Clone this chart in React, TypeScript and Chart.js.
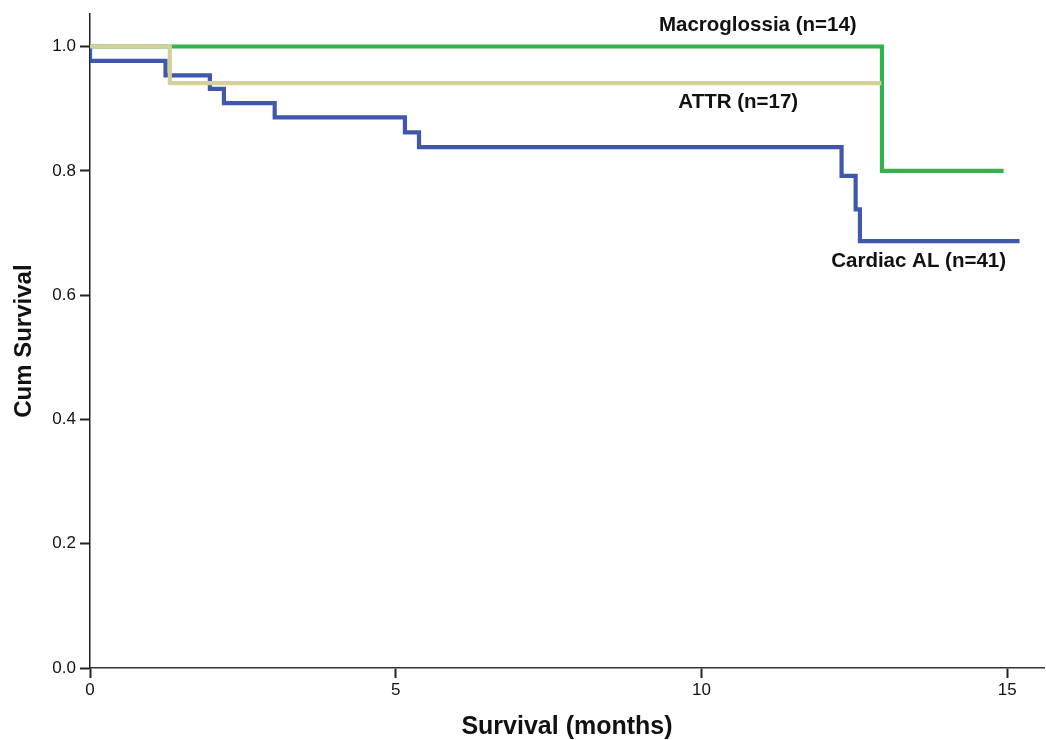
import { useEffect, useRef } from "react";
import { Chart, registerables } from "chart.js";

Chart.register(...registerables);

// Kaplan–Meier estimates (time in months, cumulative survival)
const cardiacTimes = [0, 0, 1.235, 1.96, 2.19, 3.02, 5.15, 5.38, 12.29, 12.52, 12.59, 15.2];
const cardiacSurvival = [1, 0.977, 0.9535, 0.932, 0.909, 0.886, 0.862, 0.838, 0.792, 0.738, 0.687, 0.687];

const attrTimes = [0, 1.305, 12.94];
const attrSurvival = [1, 0.941, 0.941];

const macroTimes = [0, 12.95, 14.94];
const macroSurvival = [1, 0.8, 0.8];

// Axis ticks
const xTickValues = [0, 5, 10, 15];
const yTickValues = [0, 0.2, 0.4, 0.6, 0.8, 1.0];

// Curve labels
const labelTexts = ["Macroglossia (n=14)", "ATTR (n=17)", "Cardiac AL (n=41)"];
const labelTimes = [10.92, 10.6, 13.55];
const labelLevels = [1.034, 0.91, 0.654];

const FONT = "'Liberation Sans', Arial, Helvetica, sans-serif";

const toPoints = (ts: number[], ss: number[]) => ts.map((t, i) => ({ x: t, y: ss[i] }));

const curveLabels = {
  id: "curveLabels",
  afterDatasetsDraw(chart: any) {
    const { ctx, scales } = chart;
    const xs = scales.x;
    const ys = scales.y;
    ctx.save();
    ctx.font = `bold 20.5px ${FONT}`;
    ctx.fillStyle = "#111";
    ctx.textAlign = "center";
    ctx.textBaseline = "middle";
    labelTexts.forEach((txt, i) => {
      ctx.fillText(txt, xs.getPixelForValue(labelTimes[i]), ys.getPixelForValue(labelLevels[i]));
    });
    ctx.restore();
  },
};

export default function App() {
  const canvasRef = useRef<HTMLCanvasElement | null>(null);

  useEffect(() => {
    document.body.style.margin = "0";
    const canvas = canvasRef.current;
    if (!canvas) return;

    const common = {
      stepped: true as const,
      fill: false,
      pointRadius: 0,
      borderWidth: 4.2,
      borderJoinStyle: "miter" as const,
      borderCapStyle: "butt" as const,
    };

    const chart = new Chart(canvas, {
      type: "line",
      data: {
        datasets: [
          { ...common, label: "ATTR", data: toPoints(attrTimes, attrSurvival), borderColor: "#d5d09a" },
          { ...common, label: "Cardiac AL", data: toPoints(cardiacTimes, cardiacSurvival), borderColor: "#3f58ac" },
          { ...common, label: "Macroglossia", data: toPoints(macroTimes, macroSurvival), borderColor: "#30b44b" },
        ],
      },
      options: {
        responsive: false,
        animation: false,
        events: [],
        layout: { padding: { top: 12, right: 2, left: 0, bottom: 0 } },
        plugins: {
          legend: { display: false },
          tooltip: { enabled: false },
        },
        scales: {
          x: {
            type: "linear",
            min: 0,
            max: 15.6,
            afterBuildTicks: (s: any) => {
              s.ticks = xTickValues.map((v) => ({ value: v }));
            },
            afterFit: (s: any) => {
              s.height = 72;
            },
            grid: {
              drawOnChartArea: false,
              drawTicks: true,
              tickLength: 10,
              tickWidth: 2,
              tickColor: "#222",
            },
            border: { display: true, color: "#333", width: 1.5 },
            ticks: {
              color: "#111",
              font: { family: FONT, size: 17 },
              padding: 2,
              maxRotation: 0,
              callback: (v: any) => String(v),
            },
            title: {
              display: true,
              text: "Survival (months)",
              color: "#111",
              font: { family: FONT, size: 25, weight: "bold", lineHeight: 1 },
              padding: { top: 0, bottom: 0 },
            },
          },
          y: {
            type: "linear",
            min: 0,
            max: 1.052,
            afterBuildTicks: (s: any) => {
              s.ticks = yTickValues.map((v) => ({ value: v }));
            },
            afterFit: (s: any) => {
              s.width = 90;
            },
            grid: {
              drawOnChartArea: false,
              drawTicks: true,
              tickLength: 10,
              tickWidth: 2,
              tickColor: "#222",
            },
            border: { display: true, color: "#222", width: 1.5 },
            ticks: {
              color: "#111",
              font: { family: FONT, size: 17 },
              padding: 4,
              callback: (v: any) => Number(v).toFixed(1),
            },
            title: {
              display: true,
              text: "Cum Survival",
              color: "#111",
              font: { family: FONT, size: 24, weight: "bold", lineHeight: 1.2 },
              padding: { top: 10, bottom: 0 },
            },
          },
        },
      },
      plugins: [curveLabels],
    });

    return () => chart.destroy();
  }, []);

  return <canvas ref={canvasRef} width={1046} height={740} style={{ display: "block" }} />;
}
